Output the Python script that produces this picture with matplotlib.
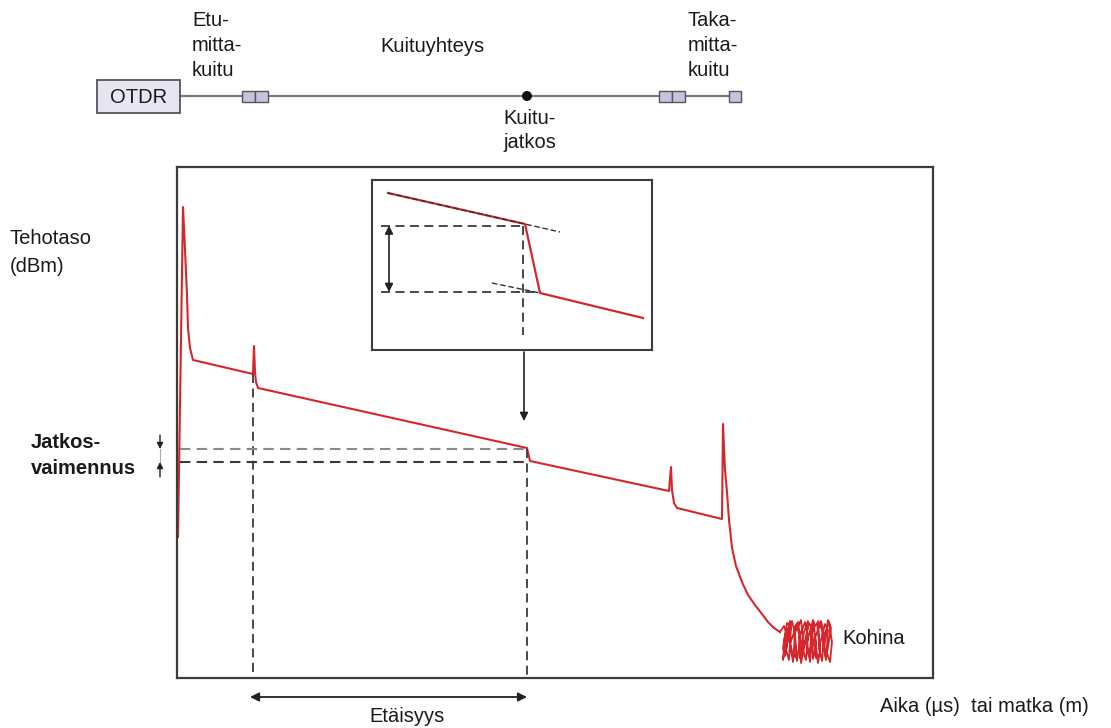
"""
OTDR trace diagram: fibre link schematic on top, backscatter trace below.
"""

import matplotlib

matplotlib.use("Agg")

import matplotlib.pyplot as plt
from matplotlib.patches import Rectangle, Circle

plt.rcParams["font.family"] = ["Liberation Sans", "DejaVu Sans"]

W, H = 1111, 728

RED = "#d7262b"
DASH_DARK = "#3a3a3a"
DASH_LIGHT = "#8a8a8a"
FRAME = "#3c3c3c"

# ---- trace data (x = distance, level = power above plot floor) ----
trace_x = [178, 183, 184, 185, 187, 188, 190, 193, 253, 254, 255, 256, 258,
           527, 530, 669, 671, 672, 674, 677, 722, 723, 724, 725, 727,
           729, 732, 736, 742, 748, 755, 762, 768, 774, 780]
trace_level = [141, 471, 450, 428, 383, 350, 330, 318, 304, 332, 306, 296, 290,
               230, 217, 187, 211, 188, 175, 170, 159, 254, 230, 208, 186,
               158, 130, 112, 96, 83, 73, 64, 56, 50, 46]

# noise scribble at the far end of the fibre
noise_pts = [
    (780, 46), (784, 52), (788, 40), (785, 22), (783, 30), (787, 55), (791, 50),
    (789, 18), (786, 28), (792, 57), (795, 44), (793, 16), (790, 34), (797, 54),
    (800, 38), (797, 17), (795, 45), (801, 58), (804, 30), (801, 15), (799, 40),
    (805, 56), (808, 42), (806, 18), (803, 28), (809, 55), (812, 50), (810, 16),
    (807, 36), (813, 58), (816, 35), (813, 19), (811, 46), (817, 55), (820, 28),
    (818, 15), (815, 40), (821, 57), (824, 44), (822, 17), (819, 30), (825, 54),
    (828, 48), (826, 18), (823, 38), (829, 56), (832, 36), (830, 16), (827, 25),
    (831, 50), (828, 58), (824, 30), (826, 20), (822, 48), (818, 57), (820, 24),
    (816, 20), (812, 45), (814, 56), (809, 22), (806, 34), (808, 57), (804, 46),
    (800, 20), (802, 30), (798, 56), (794, 50), (796, 20), (792, 26), (788, 48),
    (790, 57), (786, 36), (783, 18), (785, 44),
]
noise_x = [p[0] for p in noise_pts]
noise_level = [p[1] for p in noise_pts]

# event markers on the trace
connector_x = 253
connector_level = 304
splice_x = 527
splice_upper, splice_lower = 229, 216
marker_floor = 0

# ---- inset (zoom on the splice) ----
inset_red_x = [388, 525, 540, 643]
inset_red_y = [157, 126, 57, 32]
inset_fit_upper_x = [388, 560]
inset_fit_upper_y = [157, 118]
inset_fit_lower_x = [492, 540]
inset_fit_lower_y = [67, 57]
inset_levels = [124.5, 58]
inset_level_x0 = 381
inset_level_x1 = [525, 540]
inset_vline_x = 523
inset_vline_y = [124.5, 15]
inset_arrow_x = 389

# ---- link schematic (page pixels) ----
fiber_y = 96
fiber_x = [180, 735]
otdr_box = (97, 80, 83, 33)
connector_pairs = [242, 659]
end_connector = 729
splice_dot = 527


def frac(x0, y0, x1, y1):
    """Axes rectangle from page pixel corners."""
    return [x0 / W, 1 - y1 / H, (x1 - x0) / W, (y1 - y0) / H]


fig = plt.figure(figsize=(W / 100, H / 100), dpi=100)
fig.patch.set_facecolor("white")

# main trace axes
ax = fig.add_axes(frac(177, 167, 933, 678))
ax.set_xlim(177, 933)
ax.set_ylim(0, 511)
ax.set_xticks([])
ax.set_yticks([])
for spine in ax.spines.values():
    spine.set_color(FRAME)
    spine.set_linewidth(1.6)

ax.plot(trace_x, trace_level, color=RED, linewidth=1.5, solid_joinstyle="round")
ax.plot(noise_x, noise_level, color=RED, linewidth=1.3, solid_joinstyle="round")

dash = (0, (5, 3))
ax.plot([connector_x, connector_x], [connector_level, marker_floor], color=DASH_DARK, lw=1.3, ls=dash)
ax.plot([splice_x, splice_x], [splice_upper, marker_floor], color=DASH_DARK, lw=1.3, ls=dash)
ax.plot([180, splice_x], [splice_upper, splice_upper], color=DASH_LIGHT, lw=1.5, ls=dash)
ax.plot([180, splice_x], [splice_lower, splice_lower], color=DASH_DARK, lw=1.5, ls=dash)

# arrow from inset down to the splice
ax.annotate("", xy=(524, 257), xytext=(524, 326),
            arrowprops=dict(arrowstyle="-|>", color="#222222", lw=1.2,
                            mutation_scale=12, shrinkA=0, shrinkB=0))

# splice loss arrows left of the frame
ax.annotate("", xy=(160, splice_upper), xytext=(160, 243),
            arrowprops=dict(arrowstyle="-|>", color="#222222", lw=1.0,
                            mutation_scale=9, shrinkA=0, shrinkB=0),
            annotation_clip=False)
ax.annotate("", xy=(160, splice_lower), xytext=(160, 201),
            arrowprops=dict(arrowstyle="-|>", color="#222222", lw=1.0,
                            mutation_scale=9, shrinkA=0, shrinkB=0),
            annotation_clip=False)
ax.plot([160, 160], [splice_lower, splice_upper], color="#aaaaaa", lw=0.8, clip_on=False)

# distance arrow below the frame
ax.annotate("", xy=(250, -19), xytext=(527, -19),
            arrowprops=dict(arrowstyle="<|-|>", color="#222222", lw=1.3,
                            mutation_scale=13, shrinkA=0, shrinkB=0),
            annotation_clip=False)

# inset axes
axi = fig.add_axes(frac(372, 180, 652, 350))
axi.set_xlim(372, 652)
axi.set_ylim(0, 170)
axi.set_xticks([])
axi.set_yticks([])
for spine in axi.spines.values():
    spine.set_color(FRAME)
    spine.set_linewidth(1.5)
axi.plot(inset_red_x, inset_red_y, color=RED, lw=1.6)
axi.plot(inset_fit_upper_x, inset_fit_upper_y, color="#333333", lw=1.0, ls=(0, (4, 2)))
axi.plot(inset_fit_lower_x, inset_fit_lower_y, color="#333333", lw=1.0, ls=(0, (4, 2)))
for level, x1 in zip(inset_levels, inset_level_x1):
    axi.plot([inset_level_x0, x1], [level, level], color=DASH_DARK, lw=1.3, ls=dash)
axi.plot([inset_vline_x, inset_vline_x], inset_vline_y, color=DASH_DARK, lw=1.3, ls=dash)
axi.annotate("", xy=(inset_arrow_x, inset_levels[1]), xytext=(inset_arrow_x, inset_levels[0]),
             arrowprops=dict(arrowstyle="<|-|>", color="#222222", lw=1.2,
                             mutation_scale=12, shrinkA=0, shrinkB=0))

# page overlay for the schematic and labels
page = fig.add_axes([0, 0, 1, 1])
page.set_xlim(0, W)
page.set_ylim(H, 0)
page.axis("off")
page.patch.set_alpha(0)

page.plot(fiber_x, [fiber_y, fiber_y], color="#7a7a7a", lw=1.6, zorder=1)
page.add_patch(Rectangle(otdr_box[:2], otdr_box[2], otdr_box[3],
                         facecolor="#e6e6f2", edgecolor="#555555", lw=1.3, zorder=2))
page.text(otdr_box[0] + otdr_box[2] / 2, otdr_box[1] + otdr_box[3] / 2 + 1, "OTDR",
          fontsize=14.5, ha="center", va="center", color="#1a1a1a")
for cx in connector_pairs:
    for k in range(2):
        page.add_patch(Rectangle((cx + 13 * k, fiber_y - 5), 13, 11,
                                 facecolor="#c4c4dc", edgecolor="#555555", lw=1.0, zorder=2))
page.add_patch(Rectangle((end_connector, fiber_y - 5), 12, 11,
                         facecolor="#c4c4dc", edgecolor="#555555", lw=1.0, zorder=2))
page.add_patch(Circle((splice_dot, fiber_y), 5, facecolor="#111111", edgecolor="none", zorder=3))

text_kw = dict(fontsize=14.5, va="center", color="#1a1a1a")
for i, line in enumerate(["Etu-", "mitta-", "kuitu"]):
    page.text(192, 20 + 25.5 * i, line, **text_kw)
for i, line in enumerate(["Taka-", "mitta-", "kuitu"]):
    page.text(688, 20 + 25.5 * i, line, **text_kw)
page.text(380, 47, "Kuituyhteys", **text_kw)
page.text(503, 118, "Kuitu-", **text_kw)
page.text(503, 142, "jatkos", **text_kw)
page.text(10, 238, "Tehotaso", **text_kw)
page.text(10, 266, "(dBm)", **text_kw)
page.text(31, 443, "Jatkos-", fontweight="bold", **text_kw)
page.text(31, 468, "vaimennus", fontweight="bold", **text_kw)
page.text(842, 638, "Kohina", **text_kw)
page.text(407, 716, "Etäisyys", ha="center", fontsize=14.5, va="center", color="#1a1a1a")
page.text(880, 706, "Aika (µs)  tai matka (m)", **text_kw)

fig.savefig("out.png", dpi=100, facecolor="white")
plt.close(fig)
